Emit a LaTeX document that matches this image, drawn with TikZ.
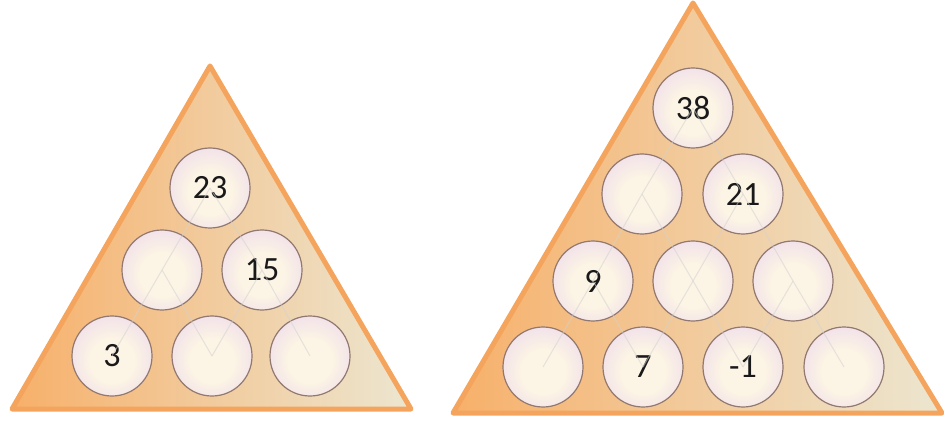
\documentclass[tikz,border=0pt]{standalone}
\usepackage{fontspec}
\setmainfont{Carlito}
\usepackage{tikz}
\definecolor{rim}{RGB}{244,164,92}
\definecolor{warm}{RGB}{247,176,106}
\definecolor{sand}{RGB}{252,226,160}
\definecolor{mist}{RGB}{236,230,208}
\definecolor{ballrim}{RGB}{145,120,112}
\definecolor{ballout}{RGB}{226,196,224}
\definecolor{ballmid}{RGB}{242,226,234}
\definecolor{ballin}{RGB}{252,244,228}
\pgfdeclareradialshading{ballshade}{\pgfpoint{0bp}{-4bp}}{color(0bp)=(ballin); color(14bp)=(ballin); color(27bp)=(ballmid); color(36bp)=(ballout); color(50bp)=(ballout)}

\begin{document}
\begin{tikzpicture}[x=1pt, y=-1pt,
  tri/.style={left color=warm, middle color=sand, right color=mist, draw=rim, line width=5pt, line join=round},
  ball/.style={circle, draw=ballrim, line width=1.2pt, minimum size=80pt, inner sep=0pt,
    shading=ballshade, font=\fontsize{34}{40}\selectfont, text=black!90},
  link/.style={draw=gray!35, line width=1pt, opacity=0.55}]
\useasboundingbox (0,0) rectangle (944,430);

% left pyramid
\shade[tri] (210,66) -- (411,409) -- (12,409) -- cycle;
\node[ball] (a1) at (210,188) {23};
\node[ball] (a21) at (162,270) {};
\node[ball] (a22) at (262,270) {15};
\node[ball] (a31) at (112,356) {3};
\node[ball] (a32) at (212,356) {};
\node[ball] (a33) at (310,356) {};
\foreach \x/\y in {a1/a21,a1/a22,a21/a31,a21/a32,a22/a32,a22/a33}
  \draw[link] (\x.center) -- (\y.center);

% right pyramid
\shade[tri] (693,3) -- (942,413) -- (453,413) -- cycle;
\node[ball] (b1) at (693,108) {38};
\node[ball] (b21) at (642,194) {};
\node[ball] (b22) at (743,194) {21};
\node[ball] (b31) at (593,281) {9};
\node[ball] (b32) at (693,281) {};
\node[ball] (b33) at (793,281) {};
\node[ball] (b41) at (543,367) {};
\node[ball] (b42) at (643,367) {7};
\node[ball] (b43) at (743,367) {-1};
\node[ball] (b44) at (844,367) {};
\foreach \x/\y in {b1/b21,b1/b22,b21/b31,b21/b32,b22/b32,b22/b33,
  b31/b41,b31/b42,b32/b42,b32/b43,b33/b43,b33/b44}
  \draw[link] (\x.center) -- (\y.center);
\end{tikzpicture}
\end{document}
